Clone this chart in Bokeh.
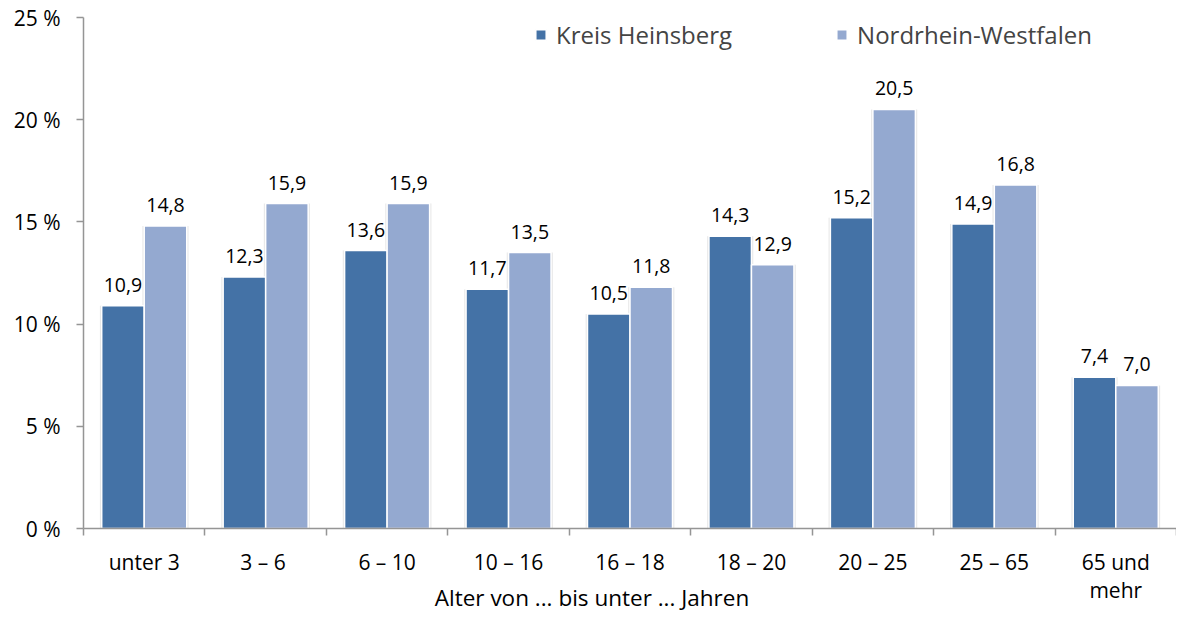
from bokeh.plotting import figure
from bokeh.models import Range1d, FixedTicker, ColumnDataSource, Legend, LegendItem
from bokeh.core.properties import value
from bokeh.embed import file_html
from bokeh.resources import INLINE

categories = ["unter 3", "3 –  6", "6 – 10", "10 – 16", "16 – 18", "18 – 20", "20 – 25", "25 – 65", "65 und\nmehr"]
kreis = [10.9, 12.3, 13.6, 11.7, 10.5, 14.3, 15.2, 14.9, 7.4]
nrw = [14.8, 15.9, 15.9, 13.5, 11.8, 12.9, 20.5, 16.8, 7.0]
series_names = ["Kreis Heinsberg", "Nordrhein-Westfalen"]
y_ticks = [0, 5, 10, 15, 20, 25]
x_title = "Alter von ... bis unter ... Jahren"

FONT = "Open Sans"
C_DARK = "#4472A6"
C_LIGHT = "#94A9D0"
GREY = "#959595"

n = len(categories)
centers = [i + 0.5 for i in range(n)]
bw = 0.35

def fmt(v):
    return f"{v:.1f}".replace(".", ",")

src_k = ColumnDataSource(dict(x=[c - bw / 2 for c in centers], top=kreis, lab=[fmt(v) for v in kreis]))
src_n = ColumnDataSource(dict(x=[c + bw / 2 for c in centers], top=nrw, lab=[fmt(v) for v in nrw]))

p = figure(width=1176, height=615, output_backend="svg", toolbar_location=None,
           x_range=Range1d(0, n), y_range=Range1d(0, 25),
           min_border_left=83, min_border_right=0, min_border_top=17, min_border_bottom=60)
p.outline_line_color = None
p.xgrid.visible = False
p.ygrid.visible = False
p.background_fill_color = "white"
p.border_fill_color = "white"

# soft shadows
for src in (src_k, src_n):
    p.vbar(x="x", top="top", width=bw + 0.03, bottom=-0.05, source=src,
           fill_color="#bdbdbd", fill_alpha=0.35, line_color=None)

r_k = p.vbar(x="x", top="top", width=bw, source=src_k, fill_color=C_DARK,
             line_color="white", line_width=1.5)
r_n = p.vbar(x="x", top="top", width=bw, source=src_n, fill_color=C_LIGHT,
             line_color="white", line_width=1.5)

for src in (src_k, src_n):
    p.text(x="x", y="top", text="lab", source=src, text_align="center",
           text_baseline="middle", y_offset=-21, text_font=value(FONT),
           text_font_size="19.5px", text_color="black")

# y axis
ya = p.yaxis[0]
ya.ticker = FixedTicker(ticks=y_ticks)
ya.major_label_overrides = {t: f"{t} %" for t in y_ticks}
ya.axis_line_color = GREY
ya.axis_line_width = 1.5
ya.major_tick_line_color = GREY
ya.major_tick_line_width = 1.5
ya.major_tick_out = 7
ya.major_tick_in = 0
ya.minor_tick_line_color = None
ya.major_label_text_font = FONT
ya.major_label_text_font_size = "21px"
ya.major_label_text_color = "black"
ya.major_label_standoff = 16

# x axis
xa = p.xaxis[0]
xa.ticker = FixedTicker(ticks=centers, minor_ticks=list(range(n + 1)))
xa.major_label_overrides = {c: lab for c, lab in zip(centers, categories)}
xa.axis_line_color = GREY
xa.axis_line_width = 1.5
xa.major_tick_line_color = None
xa.minor_tick_line_color = GREY
xa.minor_tick_line_width = 1.5
xa.minor_tick_out = 7
xa.minor_tick_in = 0
xa.major_label_text_font = FONT
xa.major_label_text_font_size = "21px"
xa.major_label_text_line_height = 1.0
xa.major_label_text_color = "black"
xa.major_label_standoff = 12
xa.axis_label = x_title + "\u00a0" * 13
xa.axis_label_text_font = FONT
xa.axis_label_text_font_size = "22.5px"
xa.axis_label_text_font_style = "normal"
xa.axis_label_text_color = "black"
xa.axis_label_standoff = -25

legend = Legend(items=[LegendItem(label=series_names[0], renderers=[r_k]),
                       LegendItem(label=series_names[1], renderers=[r_n])],
                orientation="horizontal", location=(451, 477),
                border_line_color=None, background_fill_alpha=0,
                label_text_font=FONT, label_text_font_size="24px",
                glyph_width=13, glyph_height=13, label_standoff=9,
                spacing=103, padding=0, margin=0, label_height=34)
p.add_layout(legend, "center")

open("out.html", "w").write(file_html(p, INLINE))
